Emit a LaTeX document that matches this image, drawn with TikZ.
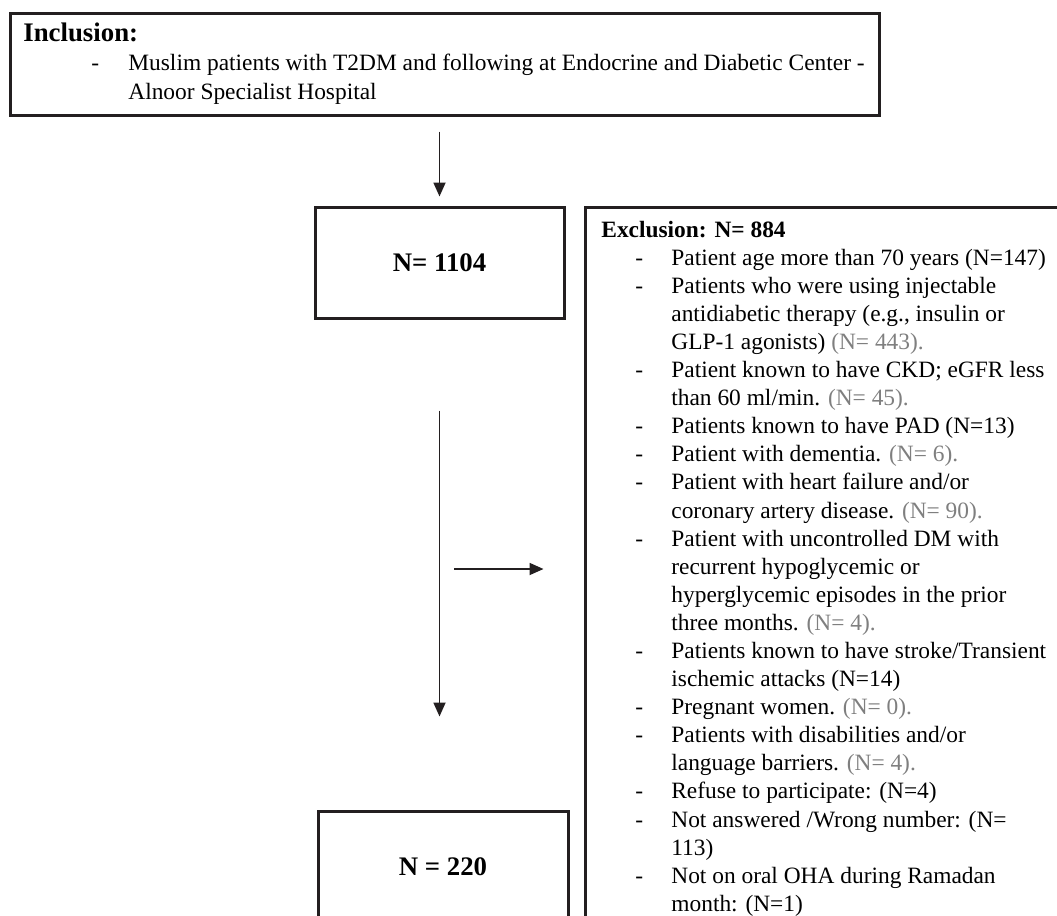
\documentclass[tikz,border=0pt]{standalone}
\usepackage{fontspec}
\setmainfont{Liberation Serif}
\usetikzlibrary{arrows.meta}
\definecolor{boxline}{HTML}{231F20}
\definecolor{ngray}{HTML}{7F7F7F}
\newcommand{\greyN}[1]{\textcolor{ngray}{#1}}

\begin{document}
\begin{tikzpicture}[x = .5pt, y = -.5pt,
    box/.style = {draw=boxline, line width=1.5pt, rectangle, inner sep=0pt},
    count/.style = {box, minimum width=124.5pt, minimum height=55.5pt,
                    font=\fontsize{13.4}{16}\selectfont\bfseries},
    listtext/.style = {anchor=base west, inner sep=0pt,
                       font=\fontsize{11.7}{14.05}\selectfont},
    arr/.style = {-{Triangle[length=7pt, width=6pt]}, line width=.9pt, draw=boxline}]
          \useasboundingbox (0,0) rectangle (1057,916);
          \clip (0,0) rectangle (1057,916);
          % boxes
          \node[box, minimum width=434.5pt, minimum height=51pt] (incl) at (444.5,64) {};
          \node[count] (n1104) at (439.5,262.5) {N= 1104};
          \node[box, minimum width=247.5pt, minimum height=366.5pt] (excl) at (832.5,573.5) {};
          \node[count, minimum width=125pt] (n220) at (443,866.5) {N = 220};
          % texts
          \node[listtext, font=\fontsize{11.7}{14.5}\selectfont] (incltext) at (23,41) {%
            \begin{tabular}[t]{@{}p{52.5pt}@{}l@{}}
              \multicolumn{2}{@{}l@{}}{\fontsize{13.4}{14.5}\selectfont\bfseries Inclusion:}\\
              \hspace*{34pt}- & Muslim patients with T2DM and following at Endocrine and Diabetic Center -\\
                              & Alnoor Specialist Hospital
            \end{tabular}};
          \node[listtext] (excltext) at (601,237) {%
            \begin{tabular}[t]{@{}p{35pt}@{}l@{}}
              \multicolumn{2}{@{}l@{}}{\bfseries Exclusion: N= 884}\\
              \hspace*{17pt}- & Patient age more than 70 years (N=147)\\
              \hspace*{17pt}- & Patients who were using injectable\\
                              & antidiabetic therapy (e.g., insulin or\\
                              & GLP-1 agonists) \greyN{(N= 443).}\\
              \hspace*{17pt}- & Patient known to have CKD; eGFR less\\
                              & than 60 ml/min. \greyN{(N= 45).}\\
              \hspace*{17pt}- & Patients known to have PAD (N=13)\\
              \hspace*{17pt}- & Patient with dementia. \greyN{(N= 6).}\\
              \hspace*{17pt}- & Patient with heart failure and/or\\
                              & coronary artery disease. \greyN{(N= 90).}\\
              \hspace*{17pt}- & Patient with uncontrolled DM with\\
                              & recurrent hypoglycemic or\\
                              & hyperglycemic episodes in the prior\\
                              & three months. \greyN{(N= 4).}\\
              \hspace*{17pt}- & Patients known to have stroke/Transient\\
                              & ischemic attacks (N=14)\\
              \hspace*{17pt}- & Pregnant women. \greyN{(N= 0).}\\
              \hspace*{17pt}- & Patients with disabilities and/or\\
                              & language barriers. \greyN{(N= 4).}\\
              \hspace*{17pt}- & Refuse to participate: (N=4)\\
              \hspace*{17pt}- & Not answered /Wrong number: (N=\\
                              & 113)\\
              \hspace*{17pt}- & Not on oral OHA during Ramadan\\
                              & month: (N=1)
            \end{tabular}};
          % arrows
          \coordinate (split) at (454,569);
          \draw[arr, shorten <=7.5pt, shorten >=4.5pt] (n1104.north |- incl.south) -- (n1104.north);
          \draw[arr, shorten <=45.5pt, shorten >=46.5pt] (n1104.south) -- (n1104.south |- n220.north);
          \draw[arr, shorten >=20pt] (split) -- (split -| excl.west);
        \end{tikzpicture}
\end{document}
